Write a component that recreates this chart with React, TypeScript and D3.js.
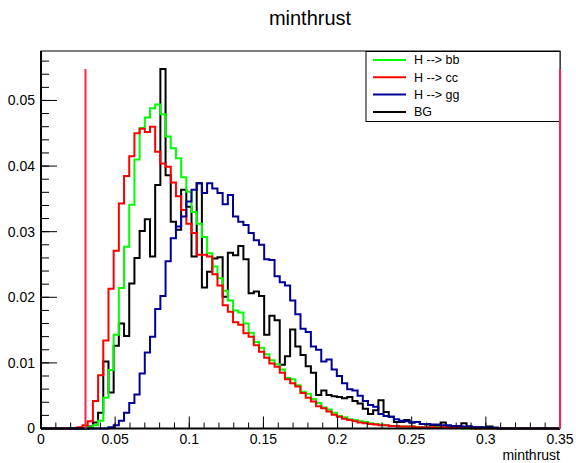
import React from "react";
import * as d3 from "d3";

// minthrust distributions, 100 bins on [0, 0.35], normalised to unit area
const xRange: [number, number] = [0, 0.35];
const nBins = 100;

const hBB = [
  0, 0, 0, 0, 0, 0, 0, 0, 0, 0.0002,
  0.0005, 0.0012, 0.0047, 0.0089, 0.0143, 0.0214, 0.0277, 0.0341, 0.041, 0.0458,
  0.0474, 0.0488, 0.0494, 0.0479, 0.0445, 0.0427, 0.0412, 0.0383, 0.0361, 0.033,
  0.0312, 0.0292, 0.0267, 0.0247, 0.0229, 0.021, 0.0195, 0.018, 0.0177, 0.016,
  0.0146, 0.0132, 0.0123, 0.0113, 0.0104, 0.0098, 0.009, 0.0077, 0.0075, 0.0066,
  0.0056, 0.0053, 0.0045, 0.0039, 0.0032, 0.0029, 0.0024, 0.0019, 0.0017, 0.0014,
  0.0013, 0.0011, 0.001, 0.0008, 0.0007, 0.0006, 0.0005, 0.0004, 0.0004, 0.0003,
  0.0003, 0.0003, 0.0002, 0.0002, 0.0002, 0.0001, 0.0002, 0.0001, 0.0001, 0.0001,
  0.0001, 0, 0, 0, 0, 0, 0, 0, 0, 0,
  0, 0, 0, 0, 0, 0, 0, 0, 0, 0,
];

const hCC = [
  0, 0, 0, 0, 0, 0, 0, 0.0002, 0.0005, 0.0011,
  0.0042, 0.0081, 0.0134, 0.0213, 0.0271, 0.0343, 0.0385, 0.0415, 0.045, 0.0457,
  0.0452, 0.046, 0.0422, 0.0404, 0.0399, 0.0375, 0.0354, 0.0333, 0.0312, 0.0298,
  0.0265, 0.0265, 0.0262, 0.0235, 0.0218, 0.0188, 0.0178, 0.0162, 0.0158, 0.0145,
  0.014, 0.0127, 0.0117, 0.0108, 0.0099, 0.0094, 0.0085, 0.0075, 0.0069, 0.0064,
  0.0054, 0.0047, 0.0041, 0.0034, 0.0031, 0.0026, 0.0021, 0.0018, 0.0015, 0.0013,
  0.0011, 0.0009, 0.0008, 0.0007, 0.0006, 0.0005, 0.0005, 0.0004, 0.0004, 0.0003,
  0.0003, 0.0003, 0.0002, 0.0002, 0.0002, 0.0002, 0.0001, 0.0002, 0.0001, 0.0001,
  0.0001, 0.0001, 0.0001, 0, 0, 0, 0, 0, 0, 0,
  0, 0, 0, 0, 0, 0, 0, 0, 0, 0,
];

const hGG = [
  0, 0, 0, 0, 0, 0, 0, 0, 0, 0,
  0, 0, 0, 0.0002, 0.0005, 0.0012, 0.0024, 0.0039, 0.0052, 0.0084,
  0.0116, 0.014, 0.0182, 0.0202, 0.0255, 0.029, 0.0308, 0.0323, 0.0346, 0.0364,
  0.0374, 0.0359, 0.0374, 0.0366, 0.0359, 0.0342, 0.0356, 0.0323, 0.0315, 0.031,
  0.0298, 0.0287, 0.028, 0.0258, 0.0257, 0.0232, 0.0223, 0.0218, 0.0195, 0.0174,
  0.0152, 0.0147, 0.0125, 0.012, 0.0102, 0.0105, 0.009, 0.008, 0.0069, 0.006,
  0.0058, 0.005, 0.0042, 0.0036, 0.0033, 0.0022, 0.0019, 0.0018, 0.0014, 0.0012,
  0.0011, 0.0009, 0.001, 0.0007, 0.0007, 0.0006, 0.0006, 0.0005, 0.0005, 0.0004,
  0.0004, 0.0003, 0.0003, 0.0002, 0.0002, 0.0002, 0.0001, 0.0001, 0, 0,
  0, 0, 0, 0, 0, 0, 0, 0, 0, 0,
];

const hBG = [
  0, 0, 0, 0, 0, 0, 0, 0, 0, 0.0003,
  0.0009, 0.0024, 0.0102, 0.0055, 0.0126, 0.016, 0.0141, 0.0221, 0.026, 0.0301,
  0.0319, 0.0262, 0.0371, 0.0548, 0.0386, 0.0315, 0.0303, 0.0364, 0.0338, 0.0262,
  0.0374, 0.0215, 0.0239, 0.0259, 0.0261, 0.0201, 0.0268, 0.0264, 0.0278, 0.0258,
  0.0206, 0.0209, 0.0202, 0.0143, 0.0172, 0.0165, 0.0097, 0.011, 0.0151, 0.0125,
  0.0112, 0.0095, 0.0085, 0.0051, 0.0058, 0.0051, 0.0049, 0.0048, 0.0046, 0.0048,
  0.0042, 0.0038, 0.003, 0.0022, 0.0028, 0.0043, 0.0025, 0.0018, 0.001, 0.001,
  0.0013, 0.0009, 0.001, 0.0007, 0.0006, 0.0005, 0.0004, 0.0009, 0.0004, 0.0003,
  0.0003, 0.0008, 0.0003, 0.0002, 0.0002, 0.0001, 0.0003, 0.0001, 0, 0,
  0, 0, 0, 0, 0, 0, 0, 0, 0, 0,
];

const seriesNames = ["H --> bb", "H --> cc", "H --> gg", "BG"];
const seriesColors = ["#00ff00", "#ff0000", "#000099", "#000000"];
const seriesData = [hBB, hCC, hGG, hBG];
// drawing order: background first, signals on top
const drawOrder = [3, 0, 1, 2];

// cut positions marked with vertical lines
const cutValues = [0.03, 0.35];

const xTicks = [0, 0.05, 0.1, 0.15, 0.2, 0.25, 0.3, 0.35];
const xTickLabels = ["0", "0.05", "0.1", "0.15", "0.2", "0.25", "0.3", "0.35"];
const yTicks = [0, 0.01, 0.02, 0.03, 0.04, 0.05];
const yTickLabels = ["0", "0.01", "0.02", "0.03", "0.04", "0.05"];

const W = 576;
const H = 463;
const frame = { left: 41, right: 560, top: 51, bottom: 428.5 };
const FONT = "'Liberation Sans', Arial, Helvetica, sans-serif";

export default function App() {
  const histMax = d3.max(hBG) as number;
  const yMax = histMax * 1.05;
  const x = d3.scaleLinear().domain(xRange).range([frame.left, frame.right]);
  const y = d3.scaleLinear().domain([0, yMax]).range([frame.bottom, frame.top]);
  const binW = (xRange[1] - xRange[0]) / nBins;

  const step = d3
    .line<[number, number]>()
    .x((d) => x(d[0]))
    .y((d) => y(d[1]))
    .curve(d3.curveStepAfter);

  const pathFor = (vals: number[]) => {
    const pts: [number, number][] = vals.map((v, i) => [xRange[0] + i * binW, v]);
    pts.push([xRange[1], vals[vals.length - 1]]);
    return step(pts) as string;
  };

  const xMinor = d3.range(0, 36).map((i) => i * 0.01).filter((v) => v <= xRange[1] + 1e-9);
  const yMinor = d3.range(0, 40).map((i) => i * 0.002).filter((v) => v <= yMax);

  const legend = { x0: 366, x1: 560, y0: 51.5, y1: 121.5 };
  const legendRows = [60, 77.3, 94.6, 111.9];

  return (
    <svg
      width={W}
      height={H}
      style={{ position: "absolute", left: 0, top: 0, background: "#fff" }}
      fontFamily={FONT}
    >
      <rect x={0} y={0} width={W} height={H} fill="#fff" />
      <text x={310} y={25} textAnchor="middle" fontSize={20} fill="#000">
        minthrust
      </text>

      {/* histograms */}
      <g fill="none" strokeWidth={2}>
        {drawOrder.map((k) => (
          <path key={k} d={pathFor(seriesData[k])} stroke={seriesColors[k]} />
        ))}
      </g>

      {/* frame */}
      <rect
        x={frame.left}
        y={frame.top}
        width={frame.right - frame.left}
        height={frame.bottom - frame.top}
        fill="none"
        stroke="#000"
        strokeWidth={1}
      />
      <line x1={frame.left} x2={frame.left} y1={frame.top} y2={frame.bottom} stroke="#000" strokeWidth={2} />
      <line x1={frame.left} x2={frame.right} y1={frame.bottom} y2={frame.bottom} stroke="#000" strokeWidth={2} />

      {/* ticks */}
      <g stroke="#000" strokeWidth={1}>
        {xMinor.map((v) => (
          <line key={"xm" + v} x1={x(v)} x2={x(v)} y1={frame.bottom} y2={frame.bottom - 6} />
        ))}
        {xTicks.map((v) => (
          <line key={"xM" + v} x1={x(v)} x2={x(v)} y1={frame.bottom} y2={frame.bottom - 12} />
        ))}
        {yMinor.map((v) => (
          <line key={"ym" + v} x1={frame.left} x2={frame.left + 8} y1={y(v)} y2={y(v)} />
        ))}
        {yTicks.map((v) => (
          <line key={"yM" + v} x1={frame.left} x2={frame.left + 16} y1={y(v)} y2={y(v)} />
        ))}
      </g>
      <g fontSize={14} fill="#000">
        {xTicks.map((v, i) => (
          <text key={"xl" + v} x={x(v)} y={444} textAnchor="middle">
            {xTickLabels[i]}
          </text>
        ))}
        {yTicks.map((v, i) => (
          <text key={"yl" + v} x={35} y={y(v)} dy="0.35em" textAnchor="end">
            {yTickLabels[i]}
          </text>
        ))}
      </g>
      <text x={560} y={460} textAnchor="end" fontSize={14} fill="#000">
        minthrust
      </text>

      {/* legend */}
      <rect
        x={legend.x0}
        y={legend.y0}
        width={legend.x1 - legend.x0}
        height={legend.y1 - legend.y0}
        fill="#fff"
        stroke="#000"
        strokeWidth={1}
      />
      {seriesNames.map((name, i) => (
        <g key={name}>
          <line x1={373} x2={406} y1={legendRows[i]} y2={legendRows[i]} stroke={seriesColors[i]} strokeWidth={2} />
          <text x={414} y={legendRows[i]} dy="0.35em" fontSize={12.5} fill="#000">
            {name}
          </text>
        </g>
      ))}

      {/* cut lines, drawn over the frame */}
      {cutValues.map((c) => (
        <line
          key={c}
          x1={x(c)}
          x2={x(c)}
          y1={y(0)}
          y2={y(histMax)}
          stroke="#ff2050"
          strokeWidth={2}
        />
      ))}
    </svg>
  );
}
